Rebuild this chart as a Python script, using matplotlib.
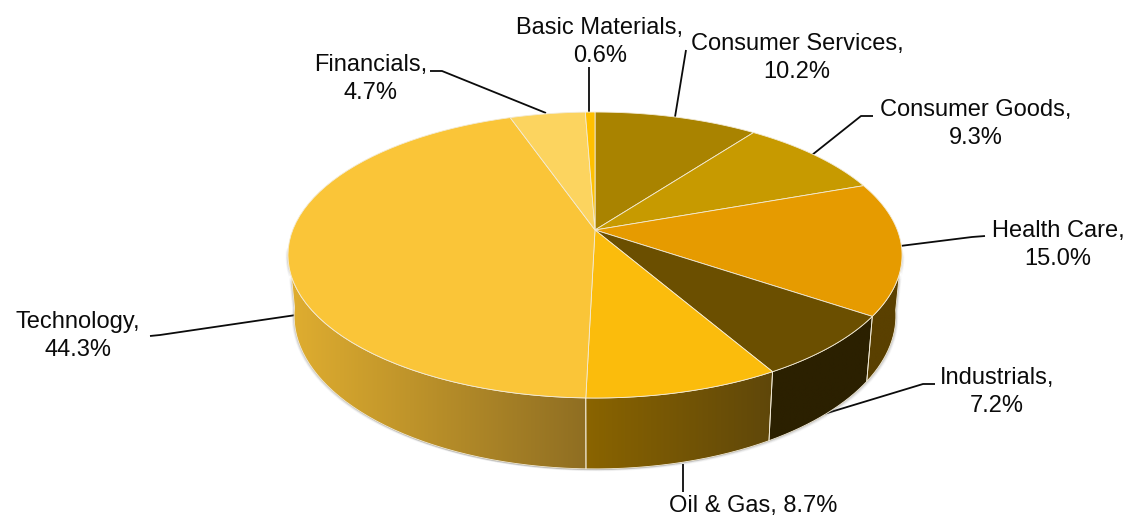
#!/usr/bin/env python
"""Sector weights as a tilted 3-D pie, drawn in pixel coordinates on one axes."""

import numpy as np
import matplotlib
matplotlib.use("Agg")
import matplotlib.pyplot as plt
from matplotlib.colors import LinearSegmentedColormap
from matplotlib.patches import PathPatch
from matplotlib.path import Path

SECTORS = ["Consumer Services", "Consumer Goods", "Health Care", "Industrials",
           "Oil & Gas", "Technology", "Financials", "Basic Materials"]
WEIGHTS = [10.2, 9.3, 15.0, 7.2, 8.7, 44.3, 4.7, 0.6]
TOP_COLORS = ["#A98300", "#C79A00", "#E69B00", "#6B4F00",
              "#FBBC0C", "#FAC538", "#FCD45F", "#FFC000"]
# left and right colour of the visible wall, None where the slice is at the back
WALL_COLORS = [None, None, ("#5A4000", "#5A4000"), ("#2B2000", "#2B2000"),
               ("#8A6400", "#5F470A"), ("#E0AE30", "#8F6E22"), None, None]

# label text centre per line, and leader polyline (all in image pixels)
LABELS = {
    "Basic Materials": [(600, 28), (600, 56)],
    "Consumer Services": [(797, 44), (797, 72)],
    "Consumer Goods": [(976, 110), (976, 138)],
    "Health Care": [(1058, 231), (1058, 259)],
    "Industrials": [(997, 378), (997, 406)],
    "Technology": [(78, 322), (78, 350)],
    "Financials": [(371, 65), (371, 93)],
}
OIL_LABEL_XY = (753, 506)
LEADERS = [
    [(589, 67), (589, 112)],
    [(686, 50), (675, 117)],
    [(873, 116), (861, 116), (812, 155)],
    [(985, 236), (972, 237), (900, 246)],
    [(935, 384), (923, 384), (824, 414)],
    [(683, 464), (683, 492)],
    [(150, 336), (160, 335), (296, 315)],
    [(430, 71), (442, 71), (546, 113)],
]

INK = "#0b0b0b"
EDGE = "#F3EBD6"
CX, CY = 595.0, 230.0       # apex of the slices
PERSP, AX, AY = 0.175, 302.3, 138.6
DEPTH_X = 0.98
DEPTH_A, DEPTH_B = 58.8, 0.072
RIM_RIGHT, RIM_LEFT = -8.0, -173.0   # where the wall leaves the top rim
FONT_SIZE = 17


def top_xy(deg):
    """Perspective projection of the unit circle onto the picture."""
    t = np.radians(deg)
    u, v = np.cos(t), np.sin(t)
    w = 1 + PERSP * v
    return CX + AX * u / w, CY - AY * v / w


def bottom_xy(deg):
    x, y = top_xy(deg)
    return CX + (x - CX) * DEPTH_X, y + DEPTH_A + DEPTH_B * (y - CY)


def wall_poly(a0, a1):
    t = np.linspace(a0, a1, 80)
    xt, yt = top_xy(t)
    xb, yb = bottom_xy(t[::-1])
    return np.r_[xt, xb], np.r_[yt, yb]


def draw_walls(ax, edges):
    # soft shadow first, hugging the lower edge of the wall
    xs, ys = wall_poly(RIM_RIGHT, RIM_LEFT)
    for off, alpha in ((4, 0.05), (3, 0.08), (2, 0.12), (1, 0.18)):
        ax.fill(xs + off * 0.6, ys + off * 0.6, color="#666666", alpha=alpha, lw=0, zorder=1)
        ax.fill(xs - off * 0.6, ys + off * 0.4, color="#666666", alpha=alpha, lw=0, zorder=1)

    for i, pair in enumerate(WALL_COLORS):
        if pair is None:
            continue
        # only the front part of the rim is visible
        a0 = min(edges[i], RIM_RIGHT)
        a1 = max(edges[i + 1], RIM_LEFT)
        xs, ys = wall_poly(a0, a1)
        cmap = LinearSegmentedColormap.from_list("wall", pair)
        im = ax.imshow(np.linspace(0, 1, 256)[None, :], cmap=cmap, aspect="auto",
                       extent=(xs.min(), xs.max(), ys.max(), ys.min()), zorder=2)
        clip = PathPatch(Path(np.c_[xs, ys]), transform=ax.transData, fc="none", ec="none")
        ax.add_patch(clip)
        im.set_clip_path(clip)
        ax.plot(np.r_[xs, xs[0]], np.r_[ys, ys[0]], color=EDGE, lw=0.6, zorder=3)


def draw_top(ax, edges):
    for i, color in enumerate(TOP_COLORS):
        t = np.linspace(edges[i], edges[i + 1], 60)
        xs, ys = top_xy(t)
        ax.fill(np.r_[CX, xs], np.r_[CY, ys], facecolor=color, edgecolor=EDGE, lw=0.6,
                joinstyle="round", zorder=4)


def main():
    plt.rcParams["font.family"] = ["Liberation Sans", "DejaVu Sans"]
    fig = plt.figure(figsize=(11.27, 5.15), dpi=100)
    ax = fig.add_axes([0, 0, 1, 1])

    # clockwise from twelve o'clock
    edges = 90 - 3.6 * np.r_[0, np.cumsum(WEIGHTS)]

    for pts in LEADERS:
        xs, ys = zip(*pts)
        ax.plot(xs, ys, color=INK, lw=1.3, solid_capstyle="butt", zorder=0)

    draw_walls(ax, edges)
    draw_top(ax, edges)

    for name, value in zip(SECTORS, WEIGHTS):
        if name == "Oil & Gas":
            ax.text(*OIL_LABEL_XY, f"{name}, {value:.1f}%", ha="center", va="center",
                    fontsize=FONT_SIZE, color=INK, zorder=6)
            continue
        (x1, y1), (x2, y2) = LABELS[name]
        ax.text(x1, y1, f"{name},", ha="center", va="center", fontsize=FONT_SIZE, color=INK, zorder=6)
        ax.text(x2, y2, f"{value:.1f}%", ha="center", va="center", fontsize=FONT_SIZE, color=INK, zorder=6)

    ax.set_xlim(0, 1127)
    ax.set_ylim(515, 0)
    ax.axis("off")
    fig.savefig("out.png", dpi=100, facecolor="white")
    plt.close(fig)


if __name__ == "__main__":
    main()
